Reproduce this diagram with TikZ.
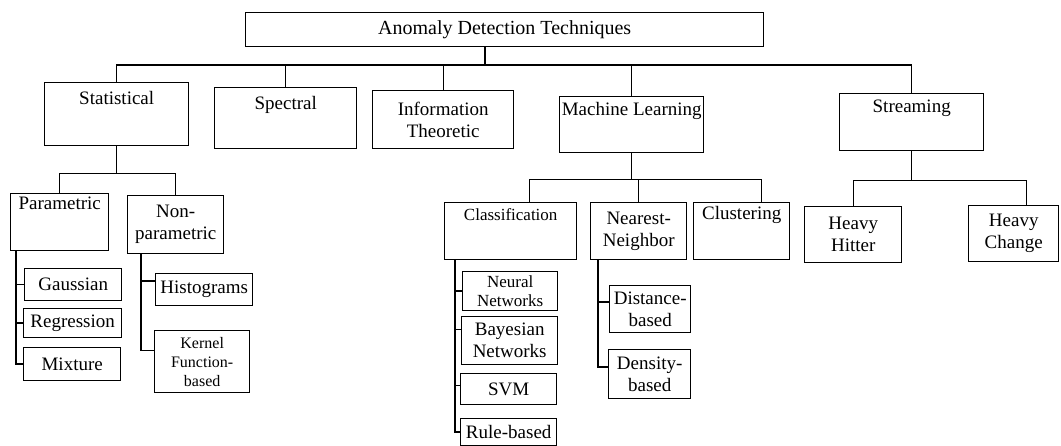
\documentclass[tikz,border=0pt]{standalone}
\usepackage{fontspec}
\setmainfont{Liberation Serif}
\usetikzlibrary{positioning}

\begin{document}
\begin{tikzpicture}[
    x=1pt, y=-1pt,
    font=\fontsize{19}{22}\selectfont,
    line width=1.4pt,
    box/.style={draw, anchor=north west, align=center, inner sep=1pt},
    titlelab/.style={anchor=north, inner sep=0pt, yshift=-6pt}
  ]
    \useasboundingbox (0,0) rectangle (1061,446);

    % top level
    \node[box, minimum width=518, minimum height=34] (root) at (245,12) {\fontsize{20}{23}\selectfont Anomaly Detection Techniques};

    \node[box, minimum width=144, minimum height=63, label={[titlelab, yshift=-3pt]north:Statistical}] (stat) at (44,82) {};
    \node[box, minimum width=142, minimum height=61, label={[titlelab, yshift=-3pt]north:Spectral}] (spec) at (214,87) {};
    \node[box, minimum width=141, minimum height=58] (info) at (372,90) {Information\\Theoretic};
    \node[box, minimum width=144, minimum height=56, label={[titlelab]north:Machine Learning}] (ml) at (559,96) {};
    \node[box, minimum width=144, minimum height=57, label={[titlelab]north:Streaming}] (stream) at (839,93) {};

    % statistical
    \node[box, minimum width=98, minimum height=57, label={[titlelab, yshift=3pt]north:Parametric}] (param) at (10,193) {};
    \node[box, minimum width=96, minimum height=58] (nonparam) at (127,195) {Non-\\parametric};
    \node[box, minimum width=97, minimum height=32] (gauss) at (24,268) {Gaussian};
    \node[box, minimum width=98, minimum height=29] (regr) at (23,308) {Regression};
    \node[box, minimum width=97, minimum height=33] (mix) at (23,347) {Mixture};
    \node[box, minimum width=97, minimum height=32] (hist) at (155,273) {Histograms};
    \node[box, minimum width=95, minimum height=62, font=\fontsize{16}{19}\selectfont] (kernel) at (154,330) {Kernel\\Function-\\based};

    % machine learning
    \node[box, minimum width=132, minimum height=57, label={[titlelab, font=\fontsize{17}{20}\selectfont]north:Classification}] (class) at (444,202) {};
    \node[box, minimum width=96, minimum height=57] (nn) at (590,202) {Nearest-\\Neighbor};
    \node[box, minimum width=96, minimum height=57, label={[titlelab, yshift=2pt]north:Clustering}] (clus) at (693,202) {};
    \node[box, minimum width=95, minimum height=39, font=\fontsize{17}{19}\selectfont] (neural) at (462,271) {Neural\\Networks};
    \node[box, minimum width=96, minimum height=48] (bayes) at (461,316) {Bayesian\\Networks};
    \node[box, minimum width=96, minimum height=31] (svm) at (460,373) {SVM};
    \node[box, minimum width=96, minimum height=27] (rule) at (460,418) {Rule-based};
    \node[box, minimum width=81, minimum height=47] (dist) at (609,285) {Distance-\\based};
    \node[box, minimum width=82, minimum height=49] (dens) at (608,349) {Density-\\based};

    % streaming
    \node[box, minimum width=97, minimum height=56] (hh) at (804,206) {Heavy\\Hitter};
    \node[box, minimum width=90, minimum height=56] (hc) at (968,205) {Heavy\\Change};

    % connectors
    \coordinate (topbus) at (485,65);
    \draw (root.south -| topbus) -- (topbus);
    \draw (stat.north) |- (topbus) -| (stream.north);
    \foreach \n in {spec, info, ml} {
      \draw (\n.north) -- (\n.north |- topbus);
    }

    \draw (stat.south) -- ++(0,27) coordinate (statbus);
    \draw (param.north) |- (statbus) -| (nonparam.north);

    \coordinate (pspine) at ([xshift=6pt]param.south west);
    \draw (pspine) |- (mix.west);
    \foreach \n in {gauss, regr} {
      \draw (pspine |- \n.west) -- (\n.west);
    }

    \coordinate (npspine) at ([xshift=14pt]nonparam.south west);
    \draw (npspine) |- (kernel.167);
    \draw (npspine |- hist.170) -- (hist.170);

    \draw (ml.south) -- ++(0,26) coordinate (mlbus);
    \draw ([xshift=19pt]class.north) |- (mlbus) -| ([xshift=20pt]clus.north);
    \draw (nn.north) -- (nn.north |- mlbus);

    \coordinate (cspine) at ([xshift=11pt]class.south west);
    \draw (cspine) |- (rule.west);
    \foreach \n/\a in {neural/180, bayes/167, svm/176} {
      \draw (cspine |- \n.\a) -- (\n.\a);
    }

    \coordinate (nspine) at ([xshift=8pt]nn.south west);
    \draw (nspine) |- (dens.170);
    \draw (nspine |- dist.170) -- (dist.170);

    \draw (stream.south) -- ++(0,29) coordinate (strbus);
    \draw (hh.north) |- (strbus) -| ([xshift=13pt]hc.north);
  \end{tikzpicture}
\end{document}
